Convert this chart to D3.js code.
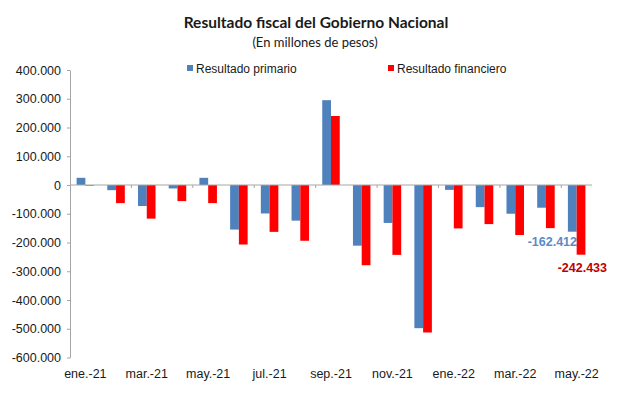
<!DOCTYPE html>
<html>
<head>
<meta charset="utf-8">
<script src="https://cdn.jsdelivr.net/npm/d3@7"></script>
<style>
	body { margin: 0; background: #fff; }
	text { font-family: "Liberation Sans", Arial, sans-serif; fill: #1a1a1a; }
</style>
</head>
<body>
<svg id="container"></svg>
<script>
const months = ['ene.-21', 'feb.-21', 'mar.-21', 'abr.-21', 'may.-21', 'jun.-21', 'jul.-21', 'ago.-21',
	'sep.-21', 'oct.-21', 'nov.-21', 'dic.-21', 'ene.-22', 'feb.-22', 'mar.-22', 'abr.-22', 'may.-22'];
// millones de pesos
const primario = [25000, -18000, -73000, -12000, 25000, -155000, -99000, -124000,
	295000, -211000, -132000, -498000, -17000, -77000, -100000, -79000, -162412];
const financiero = [-2000, -63000, -117000, -56000, -63000, -207000, -163000, -194000,
	240000, -279000, -243000, -513000, -151000, -136000, -174000, -150000, -242433];
const series = ['Resultado primario', 'Resultado financiero'];
const yTicks = [400000, 300000, 200000, 100000, 0, -100000, -200000, -300000, -400000, -500000, -600000];

const W = 617, H = 396;
const colors = { 'Resultado primario': '#4f81bd', 'Resultado financiero': '#ff0000' };

var svg = d3.select('#container').attr('width', W).attr('height', H);

var x0 = d3.scaleBand().domain(months).range([70, 592]).paddingInner(0.43).paddingOuter(0.215);
var x1 = d3.scaleBand().domain(series).range([0, x0.bandwidth()]);
var y = d3.scaleLinear().domain([-600000, 400000]).range([357.5, 70]);

var loc = d3.formatLocale({ decimal: ',', thousands: '.', grouping: [3], currency: ['$', ''], minus: '-' });
var fmt = loc.format(',d');

// titles
svg.append('text').attr('x', 316).attr('y', 28).attr('text-anchor', 'middle')
	.style('font-family', 'Lato, "Open Sans", sans-serif').style('font-weight', 'bold').style('font-size', '15.5px')
	.text('Resultado fiscal del Gobierno Nacional');
svg.append('text').attr('x', 315).attr('y', 47).attr('text-anchor', 'middle')
	.style('font-family', 'Lato, "Open Sans", sans-serif').style('font-size', '13px')
	.text('(En millones de pesos)');

// y axis
var gY = svg.append('g').attr('transform', 'translate(70,0)')
	.call(d3.axisLeft(y).tickValues(yTicks).tickSize(3).tickSizeOuter(0).tickPadding(6).tickFormat(d => fmt(d)));
gY.selectAll('.tick text').style('font-size', '12.5px').style('fill', '#1a1a1a');
gY.selectAll('line, path').attr('stroke', '#a6a6a6');

// bars
var rows = months.map((m, i) => ({ m: m, v: [primario[i], financiero[i]] }));
var groups = svg.append('g').selectAll('g').data(rows).enter().append('g')
	.attr('transform', d => 'translate(' + x0(d.m) + ',0)');
groups.selectAll('rect').data(d => series.map((s, j) => ({ s: s, v: d.v[j] }))).enter().append('rect')
	.attr('x', d => x1(d.s))
	.attr('width', x1.bandwidth())
	.attr('y', d => y(Math.max(0, d.v)))
	.attr('height', d => Math.abs(y(d.v) - y(0)))
	.attr('fill', d => colors[d.s]);

// x axis on zero line, ticks every two months
var step = x0.step();
var gX = svg.append('g').attr('transform', 'translate(0,' + y(0) + ')');
gX.append('line').attr('x1', 70).attr('x2', 592).attr('stroke', '#a6a6a6');
gX.selectAll('.tk').data(d3.range(2, months.length, 2)).enter().append('line')
	.attr('x1', d => 70 + d * step).attr('x2', d => 70 + d * step)
	.attr('y1', 0).attr('y2', 3).attr('stroke', '#a6a6a6');

svg.append('g').selectAll('text').data(months.filter((m, i) => i % 2 == 0)).enter().append('text')
	.attr('x', d => x0(d) + x0.bandwidth() / 2)
	.attr('y', 378)
	.attr('text-anchor', 'middle')
	.style('font-size', '12.5px')
	.text(d => d);

// legend
var legend = svg.append('g').selectAll('g').data(series).enter().append('g')
	.attr('transform', (d, i) => 'translate(' + (i == 0 ? 187 : 388) + ',68)');
legend.append('rect').attr('x', 0).attr('y', -3).attr('width', 6).attr('height', 6).attr('fill', d => colors[d]);
legend.append('text').attr('x', 9).attr('y', 4.5).style('font-size', '12px').text(d => d);

// data labels for last month
var last = months.length - 1;
svg.append('text').attr('x', 577).attr('y', 246).attr('text-anchor', 'end')
	.style('font-size', '12.5px').style('font-weight', 'bold').style('fill', '#5b8ac6')
	.text(fmt(primario[last]));
svg.append('text').attr('x', 607).attr('y', 272).attr('text-anchor', 'end')
	.style('font-size', '12.5px').style('font-weight', 'bold').style('fill', '#c00000')
	.text(fmt(financiero[last]));
</script>
</body>
</html>
